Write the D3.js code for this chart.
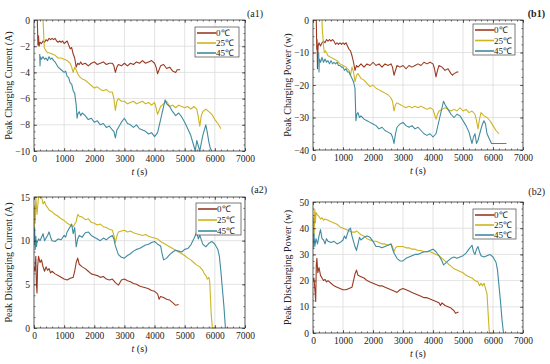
<!DOCTYPE html>
<html>
<head>
<meta charset="utf-8">
<script src="https://cdn.jsdelivr.net/npm/d3@7"></script>
<style>
  body { margin: 0; background: #fff; }
  svg { display: block; }
  text { font-family: "Liberation Serif", "Times New Roman", serif; fill: #222; }
</style>
</head>
<body>
<svg id="chart" width="550" height="364"></svg>
<script>
// series names and colours
var seriesNames = ["0\u2103", "25\u2103", "45\u2103"];
var seriesColors = ["#9a3a22", "#cdb420", "#3f8ba0"];

var xTicks = [0, 1000, 2000, 3000, 4000, 5000, 6000, 7000];

// (a1) peak charging current, A
var a1_0C = [[110,0],[130,-1.9],[150,-1.2],[170,-2.0],[200,-1.7],[250,-1.8],[300,-1.6],[350,-1.7],[400,-1.5],[450,-1.6],[500,-1.4],[550,-1.5],[600,-1.4],[650,-1.5],[700,-1.4],[750,-1.6],[800,-1.7],[850,-1.6],[900,-1.7],[950,-1.6],[1000,-1.8],[1050,-1.7],[1100,-1.6],[1150,-1.9],[1200,-2.2],[1250,-2.1],[1300,-2.6],[1350,-2.9],[1400,-3.6],[1450,-3.3],[1500,-3.4],[1550,-3.2],[1600,-3.4],[1700,-3.3],[1800,-3.5],[1900,-3.3],[2000,-3.2],[2100,-3.4],[2200,-3.3],[2300,-3.2],[2400,-3.4],[2500,-3.3],[2600,-3.3],[2650,-3.5],[2700,-4.0],[2750,-3.6],[2800,-3.4],[2900,-3.5],[3000,-3.3],[3100,-3.5],[3200,-3.3],[3300,-3.4],[3400,-3.2],[3500,-3.3],[3600,-3.1],[3700,-3.3],[3800,-3.2],[3900,-3.1],[4000,-3.3],[4050,-3.6],[4100,-4.1],[4150,-3.8],[4200,-3.5],[4300,-3.4],[4400,-3.7],[4500,-3.6],[4600,-3.9],[4700,-4.0],[4750,-3.8],[4850,-3.8]];
var a1_25C = [[300,0],[320,-1.0],[340,-2.1],[380,-2.3],[450,-2.5],[500,-2.5],[600,-2.6],[700,-2.7],[800,-2.9],[900,-2.9],[1000,-3.0],[1100,-3.1],[1200,-3.3],[1250,-3.6],[1300,-4.0],[1350,-3.6],[1400,-3.8],[1450,-4.1],[1500,-4.3],[1600,-4.5],[1700,-4.6],[1800,-4.8],[1900,-5.0],[2000,-5.2],[2100,-5.1],[2200,-5.3],[2300,-5.4],[2400,-5.3],[2500,-5.5],[2600,-5.5],[2650,-6.0],[2700,-6.9],[2750,-6.2],[2800,-6.0],[2900,-6.2],[3000,-6.2],[3100,-6.4],[3200,-6.3],[3300,-6.2],[3400,-6.4],[3500,-6.3],[3600,-6.2],[3700,-6.4],[3800,-6.3],[3900,-6.5],[4000,-6.3],[4050,-6.7],[4100,-7.2],[4200,-6.6],[4300,-6.4],[4400,-6.2],[4500,-6.6],[4600,-6.5],[4700,-6.7],[4800,-6.5],[4900,-6.6],[5000,-6.7],[5100,-6.6],[5200,-6.8],[5300,-6.6],[5400,-6.8],[5450,-7.4],[5500,-8.1],[5550,-7.3],[5600,-7.0],[5700,-6.8],[5800,-7.0],[5900,-7.2],[6000,-7.6],[6100,-7.9],[6200,-8.3]];
var a1_45C = [[190,-2.6],[200,-3.5],[210,-2.8],[250,-3.0],[300,-2.8],[350,-3.0],[400,-2.9],[450,-3.1],[500,-2.8],[550,-3.0],[600,-2.9],[650,-3.1],[700,-3.2],[750,-3.4],[800,-3.6],[900,-3.8],[1000,-4.0],[1050,-3.9],[1100,-4.3],[1150,-4.4],[1200,-4.8],[1250,-4.9],[1300,-5.4],[1350,-5.6],[1400,-6.5],[1430,-7.5],[1450,-7.2],[1500,-7.0],[1550,-7.3],[1600,-7.1],[1700,-7.3],[1800,-7.6],[1900,-7.5],[2000,-7.8],[2100,-7.7],[2200,-8.0],[2300,-7.9],[2400,-8.2],[2500,-8.1],[2600,-8.4],[2650,-8.5],[2700,-9.0],[2750,-8.4],[2800,-8.2],[2900,-7.8],[3000,-7.5],[3100,-7.9],[3200,-8.0],[3300,-8.2],[3400,-8.0],[3500,-8.3],[3600,-8.4],[3700,-8.5],[3800,-8.7],[3900,-8.6],[4000,-8.9],[4100,-8.6],[4200,-7.6],[4300,-6.6],[4350,-6.1],[4400,-6.4],[4500,-6.6],[4600,-7.0],[4700,-7.3],[4800,-7.1],[4900,-7.4],[5000,-7.8],[5100,-8.3],[5200,-8.8],[5300,-9.6],[5350,-10],[5400,-9.2],[5450,-9.6],[5500,-10],[5550,-9.4],[5600,-8.8],[5700,-8.0],[5750,-8.6],[5800,-9.3],[5850,-9.8],[5900,-10]];

// (b1) peak charging power, W
var b1_0C = [[110,0],[125,-9],[135,-6],[150,-15],[170,-8],[200,-7],[250,-8],[300,-7],[350,-6.5],[400,-7],[450,-6],[500,-6.5],[550,-6],[600,-6.5],[650,-6],[700,-6.5],[750,-7.5],[800,-7],[850,-7.5],[900,-7],[950,-7.5],[1000,-7],[1050,-7.5],[1100,-7],[1150,-8],[1200,-9],[1250,-9.5],[1300,-11],[1350,-13],[1400,-15.5],[1450,-14],[1500,-14.5],[1600,-13.5],[1700,-14.5],[1800,-13.5],[1900,-14],[2000,-13],[2100,-14],[2200,-13.5],[2300,-14.5],[2400,-13.5],[2500,-14],[2600,-13.5],[2650,-14.5],[2700,-17],[2750,-15.5],[2800,-14],[2900,-14.5],[3000,-14],[3100,-15],[3200,-14],[3300,-14.5],[3400,-14],[3500,-13.5],[3600,-14],[3700,-13],[3800,-13.5],[3900,-13],[4000,-13.5],[4050,-15],[4100,-17.5],[4150,-15.5],[4200,-14],[4300,-14.5],[4400,-15.5],[4500,-15],[4600,-16.5],[4650,-17],[4700,-16.5],[4800,-16],[4850,-16]];
var b1_25C = [[300,0],[310,-3],[330,-5],[350,-8],[380,-10],[420,-9.5],[500,-11],[600,-11.5],[700,-12],[800,-12.5],[900,-13.5],[1000,-14],[1100,-14.5],[1150,-15],[1200,-15.5],[1250,-17],[1300,-14.5],[1350,-16],[1400,-19],[1450,-17],[1500,-16.5],[1600,-18],[1700,-18.5],[1800,-19.5],[1900,-20.5],[2000,-20],[2100,-21],[2200,-21.5],[2300,-22],[2400,-22.5],[2500,-23],[2600,-24],[2650,-25],[2700,-28],[2750,-26],[2800,-25.5],[2900,-26],[3000,-26.5],[3100,-27],[3200,-26.5],[3300,-27],[3400,-26.5],[3500,-27],[3600,-26.5],[3700,-27],[3800,-27.5],[3900,-27],[4000,-27.5],[4050,-29],[4100,-30.5],[4150,-29],[4200,-28],[4300,-27.5],[4400,-27],[4500,-27.5],[4600,-28],[4700,-27.5],[4800,-28],[4900,-27],[5000,-28],[5100,-27.5],[5200,-28.5],[5300,-28],[5400,-29],[5450,-31],[5500,-33.5],[5550,-30.5],[5600,-28.5],[5700,-29.5],[5800,-30],[5900,-31],[6000,-32.5],[6100,-34],[6200,-35]];
var b1_45C = [[190,-10],[200,-16],[210,-12],[250,-13],[300,-11.5],[350,-13],[400,-12],[450,-13],[500,-12.5],[550,-13.5],[600,-12.5],[650,-13.5],[700,-13],[750,-13.5],[800,-13],[850,-14],[900,-14],[950,-14.5],[1000,-14.5],[1050,-15.5],[1100,-15],[1150,-16],[1200,-16],[1250,-17],[1300,-18],[1350,-19],[1400,-21],[1430,-31],[1460,-29],[1500,-28.5],[1550,-30],[1600,-29.5],[1700,-30.5],[1800,-31],[1900,-31.5],[2000,-32],[2100,-32.5],[2200,-33.5],[2300,-33],[2400,-34],[2500,-34.5],[2600,-35],[2650,-36],[2700,-38],[2750,-35],[2800,-33],[2900,-32],[3000,-31.5],[3100,-32.5],[3200,-33],[3300,-32.5],[3400,-33.5],[3500,-33],[3600,-34],[3700,-35],[3800,-35.5],[3900,-35],[4000,-36],[4100,-35],[4200,-31],[4300,-27],[4350,-25],[4400,-26],[4500,-27.5],[4600,-29],[4700,-30],[4800,-29],[4900,-29.5],[5000,-31],[5100,-32.5],[5200,-34.5],[5300,-38],[5350,-36],[5400,-35],[5450,-38],[5500,-37],[5600,-33.5],[5650,-32],[5700,-31],[5750,-32],[5800,-35],[5900,-37],[5950,-38],[6450,-38]];

// (a2) peak discharging current, A
var a2_0C = [[0,7],[30,6.5],[60,8.2],[80,5],[100,4],[120,7],[150,8.2],[200,7.5],[250,7.8],[300,7],[350,6.5],[400,7],[450,6.6],[500,6.8],[550,6.3],[600,6.5],[700,6.2],[800,6],[900,5.8],[1000,5.6],[1100,5.5],[1200,5.7],[1300,5.8],[1350,6.5],[1400,7.5],[1450,8],[1500,7.3],[1600,7],[1700,6.8],[1800,6.5],[1900,6.2],[2000,6.1],[2100,6],[2200,5.8],[2300,5.9],[2400,5.6],[2500,5.5],[2600,5.6],[2700,5.2],[2800,4.9],[2900,5.5],[3000,5.6],[3100,5.4],[3200,5.3],[3300,5.1],[3400,5],[3500,4.8],[3600,4.7],[3700,4.6],[3800,4.5],[3900,4.3],[4000,4.2],[4100,3.9],[4150,3.3],[4200,3.6],[4300,3.5],[4400,3.3],[4500,3.2],[4600,2.9],[4700,2.6],[4800,2.7]];
var a2_25C = [[0,10],[20,14],[40,12],[60,15],[100,13],[150,15],[200,15],[250,15],[300,14.2],[350,14.5],[400,14],[450,13.8],[500,13.5],[600,13.3],[700,13],[800,12.8],[900,12.5],[1000,12.3],[1100,12],[1200,11.8],[1300,11.6],[1400,12.2],[1450,13],[1500,12.8],[1600,12.7],[1700,12.4],[1800,12.5],[1900,12.1],[2000,12],[2100,11.8],[2200,11.9],[2300,11.6],[2400,11.5],[2500,11.3],[2600,11.2],[2650,10.6],[2700,9.8],[2750,10.5],[2800,11],[2900,11.1],[3000,11.2],[3100,11],[3200,11.1],[3300,10.9],[3400,10.8],[3500,10.7],[3600,10.6],[3700,10.7],[3800,10.5],[3900,10.4],[4000,10.3],[4100,10.2],[4200,9.9],[4300,9.7],[4400,9.5],[4500,9.3],[4600,9.1],[4700,8.9],[4800,8.7],[4900,8.5],[5000,8.3],[5100,8.0],[5200,7.8],[5300,7.5],[5400,7.2],[5500,7.0],[5600,6.6],[5650,6.2],[5700,6.0],[5750,5.6],[5800,5.8],[5830,5.3],[5880,1.5],[5920,0],[6050,0]];
var a2_45C = [[0,9.5],[20,11.5],[40,9],[60,10.5],[80,9.3],[100,9.8],[150,10.2],[200,10],[250,10.4],[300,10.8],[350,10],[400,10.3],[450,10.6],[500,11],[550,10.4],[600,10],[700,9.9],[800,10.2],[900,10.1],[1000,10.6],[1050,10.4],[1100,11],[1150,11.3],[1200,11.6],[1250,11.9],[1300,10.8],[1350,11.5],[1400,9.3],[1450,10.2],[1500,10.6],[1600,10.4],[1700,10.9],[1800,11],[1900,10.6],[2000,10.4],[2100,10.2],[2200,10],[2300,10.3],[2400,10.1],[2500,10.4],[2600,10.6],[2650,10.2],[2700,9.4],[2800,8.4],[2900,8.1],[3000,8],[3100,8.3],[3200,8.5],[3300,8.8],[3400,9],[3500,9.1],[3600,9.3],[3700,9.5],[3800,9.6],[3900,9.8],[4000,9.9],[4100,9.6],[4200,9.4],[4250,8.5],[4300,7.8],[4400,8],[4500,8.4],[4600,8.7],[4700,8.9],[4800,8.8],[4900,8.7],[5000,9],[5100,9.1],[5200,9.5],[5300,10.2],[5400,11],[5450,10.2],[5500,10.6],[5600,9.6],[5700,9.3],[5800,9.7],[5900,9.9],[6000,9.6],[6100,9.0],[6150,8.2],[6200,6.5],[6250,4.5],[6300,2.5],[6350,0]];

// (b2) peak discharging power, W
var b2_0C = [[0,20],[30,21],[60,17],[90,12],[110,26],[130,28.5],[160,23],[200,25],[250,22],[300,21],[350,20],[400,20.5],[450,19.5],[500,20],[600,19],[700,18],[800,17.5],[900,17],[1000,16.5],[1100,16.5],[1200,17],[1300,17.5],[1350,20],[1400,22.5],[1450,24],[1500,22],[1600,21.5],[1700,21],[1800,20],[1900,19.5],[2000,19],[2100,18.5],[2200,18],[2300,18],[2400,17.5],[2500,17],[2600,16.5],[2700,16],[2800,15.5],[2900,16.5],[3000,17],[3100,16.5],[3200,16],[3300,15.5],[3400,15],[3500,14.5],[3600,14],[3700,13.5],[3800,13.5],[3900,13],[4000,12.5],[4100,12],[4200,11.5],[4250,10.5],[4300,11.5],[4400,10.5],[4500,10],[4600,9.5],[4700,8.5],[4750,7.5],[4850,8]];
var b2_25C = [[0,35],[20,44],[40,38],[60,47],[80,42],[100,46],[150,45],[200,44.5],[250,43.5],[300,44],[350,43],[400,43.5],[500,43],[600,42.5],[700,42],[800,41.5],[900,40.5],[1000,40],[1100,39.5],[1200,39],[1300,38.5],[1400,38.5],[1450,39],[1500,38.5],[1600,37.5],[1700,37],[1800,36],[1900,35.5],[2000,35],[2100,35],[2200,34.5],[2300,34],[2400,34],[2500,33.5],[2600,34],[2650,33],[2700,31],[2750,32.5],[2800,33],[2900,33],[3000,33],[3100,32.5],[3200,32.5],[3300,32],[3400,32],[3500,31.5],[3600,31.5],[3700,31],[3800,31],[3900,31],[4000,30.5],[4100,30],[4200,29.5],[4300,28.5],[4400,27.5],[4500,26.5],[4600,25.5],[4700,24.5],[4800,24],[4900,23.5],[5000,23],[5100,22],[5200,21.5],[5300,21],[5400,20],[5500,19.5],[5550,18],[5600,19],[5650,18],[5700,19],[5750,17],[5800,15],[5850,5],[5880,0],[6050,0]];
var b2_45C = [[0,32],[30,38],[60,33],[100,36],[150,34],[200,37],[250,39.5],[300,36],[350,35.5],[400,34],[450,36],[500,35],[600,34.5],[700,35],[800,34],[900,34.5],[1000,35.5],[1050,37],[1100,36],[1150,38],[1200,39.5],[1250,40],[1300,37],[1350,35],[1400,33],[1450,31.5],[1500,34],[1550,36.5],[1600,35.5],[1700,36.5],[1800,37],[1900,36.5],[2000,35],[2100,33],[2200,33],[2300,32.5],[2400,33],[2500,33.5],[2600,34],[2650,32],[2700,30.5],[2800,28.5],[2900,27.5],[3000,27.5],[3100,28.5],[3200,29],[3300,29.5],[3400,30],[3500,30],[3600,30.5],[3700,31],[3800,31],[3900,31.5],[4000,32],[4100,31],[4200,29.5],[4300,27.5],[4350,26],[4400,26.5],[4500,27.5],[4600,28.5],[4700,29],[4800,28.5],[4900,29],[5000,29.5],[5100,30.5],[5200,32],[5300,33.5],[5350,31],[5400,30],[5450,32],[5500,33],[5550,31],[5600,29.5],[5700,29],[5800,29.5],[5900,30],[6000,29],[6100,27],[6150,24],[6200,18],[6250,12],[6300,5],[6350,0]];

var svg = d3.select("#chart");

function drawPanel(p) {
  var x = d3.scaleLinear().domain([0, 7000]).range([p.left, p.right]);
  var y = d3.scaleLinear().domain(p.ydomain).range([p.bottom, p.top]);
  var g = svg.append("g");

  var yMinor = d3.range(p.ydomain[0], p.ydomain[1] + 1e-9, p.ystep / 4);
  var xMinor = d3.range(0, 7001, 200);

  //grid
  g.append("g").selectAll("line").data(xTicks.slice(1, -1)).enter().append("line")
    .attr("x1", d => x(d)).attr("x2", d => x(d))
    .attr("y1", p.top).attr("y2", p.bottom)
    .attr("stroke", "#dcdcdc").attr("stroke-width", 0.8);
  g.append("g").selectAll("line").data(p.yticks.slice(1, -1)).enter().append("line")
    .attr("x1", p.left).attr("x2", p.right)
    .attr("y1", d => y(d)).attr("y2", d => y(d))
    .attr("stroke", "#dcdcdc").attr("stroke-width", 0.8);

  //lines
  var line = d3.line().x(d => x(d[0])).y(d => y(d[1]));
  var clipId = "clip-" + p.tag.replace(/[()]/g, "");
  svg.append("clipPath").attr("id", clipId).append("rect")
    .attr("x", p.left).attr("y", p.top - 1)
    .attr("width", p.right - p.left).attr("height", p.bottom - p.top + 2);
  var lg = g.append("g").attr("clip-path", "url(#" + clipId + ")");
  p.series.forEach(function(s, i) {
    lg.append("path").datum(s)
      .attr("fill", "none")
      .attr("stroke", seriesColors[i])
      .attr("stroke-width", 1.1)
      .attr("stroke-linejoin", "round")
      .attr("d", line);
  });

  //axes, ticks inward on all four sides
  function style(a) {
    a.select(".domain").remove();
    a.selectAll("line").attr("stroke", "#333").attr("stroke-width", 0.7);
    a.selectAll("text").style("font-family", "Liberation Serif, serif").style("font-size", "9.5px").attr("fill", "#333");
  }
  g.append("g").attr("transform", "translate(0," + p.bottom + ")")
    .call(d3.axisBottom(x).tickValues(xTicks).tickSize(-3).tickPadding(4).tickFormat(d3.format("d")))
    .call(style);
  g.append("g").attr("transform", "translate(0," + p.bottom + ")")
    .call(d3.axisBottom(x).tickValues(xMinor).tickSize(-1.5).tickFormat(""))
    .call(style);
  g.append("g").attr("transform", "translate(0," + p.top + ")")
    .call(d3.axisTop(x).tickValues(xTicks).tickSize(-3).tickFormat(""))
    .call(style);
  g.append("g").attr("transform", "translate(0," + p.top + ")")
    .call(d3.axisTop(x).tickValues(xMinor).tickSize(-1.5).tickFormat(""))
    .call(style);
  g.append("g").attr("transform", "translate(" + p.left + ",0)")
    .call(d3.axisLeft(y).tickValues(p.yticks).tickSize(-3).tickPadding(4).tickFormat(d3.format("d")))
    .call(style);
  g.append("g").attr("transform", "translate(" + p.left + ",0)")
    .call(d3.axisLeft(y).tickValues(yMinor).tickSize(-1.5).tickFormat(""))
    .call(style);
  g.append("g").attr("transform", "translate(" + p.right + ",0)")
    .call(d3.axisRight(y).tickValues(p.yticks).tickSize(-3).tickFormat(""))
    .call(style);
  g.append("g").attr("transform", "translate(" + p.right + ",0)")
    .call(d3.axisRight(y).tickValues(yMinor).tickSize(-1.5).tickFormat(""))
    .call(style);

  g.append("rect")
    .attr("x", p.left).attr("y", p.top)
    .attr("width", p.right - p.left).attr("height", p.bottom - p.top)
    .attr("fill", "none").attr("stroke", "#333").attr("stroke-width", 0.8);

  //labels
  g.append("text")
    .attr("transform", "translate(" + (p.left - 22) + "," + ((p.top + p.bottom) / 2) + ") rotate(-90)")
    .attr("text-anchor", "middle")
    .style("font-size", "10px")
    .text(p.ylabel);
  var xl = g.append("text")
    .attr("x", (p.left + p.right) / 2).attr("y", p.bottom + 24)
    .attr("text-anchor", "middle")
    .style("font-size", "10px");
  xl.append("tspan").style("font-style", "italic").text("t");
  xl.append("tspan").text(" (s)");
  g.append("text")
    .attr("x", p.tagX).attr("y", p.tagY)
    .attr("text-anchor", "end")
    .style("font-size", "10px")
    .style("font-weight", p.tagBold ? "bold" : "normal")
    .text(p.tag);

  //legend
  var L = p.legend;
  g.append("rect")
    .attr("x", L[0]).attr("y", L[1]).attr("width", L[2]).attr("height", L[3])
    .attr("fill", "#fff").attr("stroke", "#444").attr("stroke-width", 0.7);
  seriesNames.forEach(function(n, i) {
    var ly = L[1] + 6 + i * (L[3] - 10) / 2;
    g.append("line")
      .attr("x1", L[0] + 2).attr("x2", L[0] + 21)
      .attr("y1", ly).attr("y2", ly)
      .attr("stroke", seriesColors[i]).attr("stroke-width", 1.6);
    g.append("text")
      .attr("x", L[0] + 21).attr("y", ly + 3)
      .style("font-size", "9px")
      .text(n);
  });
}

drawPanel({
  left: 34, right: 245, top: 20, bottom: 151,
  ydomain: [-10, 0], yticks: [-10, -8, -6, -4, -2, 0], ystep: 2,
  ylabel: "Peak Charging Current (A)",
  tag: "(a1)", tagX: 263, tagY: 17,
  legend: [195, 27, 44, 30],
  series: [a1_0C, a1_25C, a1_45C]
});
drawPanel({
  left: 313, right: 523, top: 20, bottom: 150,
  ydomain: [-40, 0], yticks: [-40, -30, -20, -10, 0], ystep: 10,
  ylabel: "Peak Charging Power (w)",
  tag: "(b1)", tagX: 545, tagY: 17, tagBold: true,
  legend: [473, 24, 42, 31],
  series: [b1_0C, b1_25C, b1_45C]
});
drawPanel({
  left: 34, right: 245, top: 197, bottom: 328,
  ydomain: [0, 15], yticks: [0, 5, 10, 15], ystep: 5,
  ylabel: "Peak Discharging Current (A)",
  tag: "(a2)", tagX: 267, tagY: 193,
  legend: [196, 203, 45, 32],
  series: [a2_0C, a2_25C, a2_45C]
});
drawPanel({
  left: 313, right: 523, top: 202, bottom: 333,
  ydomain: [0, 50], yticks: [0, 10, 20, 30, 40, 50], ystep: 10,
  ylabel: "Peak Discharging Power (w)",
  tag: "(b2)", tagX: 545, tagY: 195,
  legend: [473, 209, 43, 30],
  series: [b2_0C, b2_25C, b2_45C]
});
</script>
</body>
</html>
